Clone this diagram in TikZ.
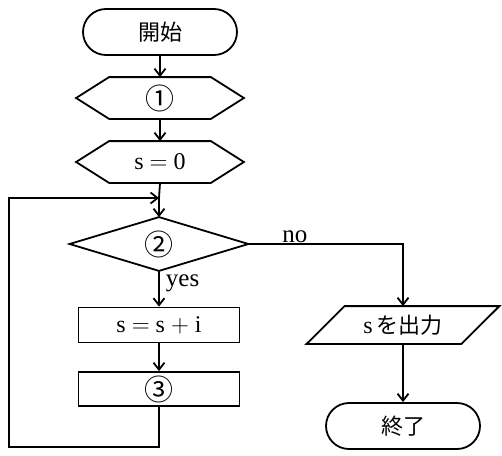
\documentclass[tikz,border=0pt]{standalone}
\usepackage{fontspec}
\setmainfont{Liberation Serif}
\newfontfamily\jp{Noto Sans CJK JP}
\newcommand{\circnum}[1]{{\jp\fontsize{29}{30}\selectfont #1}}
\usetikzlibrary{arrows.meta,calc}
\begin{document}
\begin{tikzpicture}[x=1pt,y=-1pt, line width=1.8pt,
  font=\fontsize{24}{28}\selectfont,
  jtext/.style={font=\jp\fontsize{22}{26}\selectfont},
  box/.style={draw, minimum width=161pt, inner sep=0},
  term/.style={draw, rounded corners=23pt, minimum width=154pt, minimum height=46pt, inner sep=0},
  hexa/.style={minimum width=166pt, minimum height=40pt, inner sep=0},
  arr/.style={-{Straight Barb[length=7pt,width=11pt]}},
  lbl/.style={font=\fontsize{25}{28}\selectfont, inner sep=2pt}
 ]
\useasboundingbox (0,0) rectangle (502,455);
% nodes
\node[term, jtext] (start) at (160,32) {開始};
\node[hexa] (h1) at (160,98) {\circnum{①}};
\node[hexa] (h2) at (160,162) {s $=$ 0};
\node[minimum width=177pt, minimum height=52pt, inner sep=0] (dia) at (159,244) {\circnum{②}};
\node[box, minimum height=35pt] (r1) at (159,325) {s $=$ s $+$ i};
\node[box, minimum height=34pt] (r2) at (159,389) {\circnum{③}};
\node[minimum width=191pt, minimum height=36pt, inner sep=0] (para) at (403,325) {s\,{\jp\fontsize{22}{26}\selectfont を出力}};
\node[term, jtext] (end) at (403,426) {終了};
\coordinate (join) at (159,198);
\coordinate (loopbl) at (9,447);
% shapes drawn directly
\foreach \h in {h1,h2}{
  \draw (\h.west) -- ($(\h.north west)+(33,0)$) -- ($(\h.north east)+(-33,0)$) -- (\h.east)
    -- ($(\h.south east)+(-33,0)$) -- ($(\h.south west)+(33,0)$) -- cycle;
}
\draw (dia.north) -- (dia.east) -- (dia.south) -- (dia.west) -- cycle;
\draw ($(para.north west)+(38,0)$) -- (para.north east) -- ($(para.south east)+(-38,0)$) -- (para.south west) -- cycle;
% connectors
\draw[arr] (start) -- (h1);
\draw[arr] (h1) -- (h2);
\draw (h2.south) -- (join);
\draw[arr] (join) -- (dia.north);
\draw[arr] (dia.south) -- node[lbl, right, pos=0.35, xshift=4pt] {yes} (r1.north);
\draw[arr] (r1) -- (r2);
\draw[arr] (r2.south) |- (loopbl) |- (join);
\draw[arr] (dia.east) -| node[lbl, above, pos=0.15, inner sep=0pt] {no} (para.north);
\draw[arr] (para) -- (end);
\end{tikzpicture}
\end{document}
